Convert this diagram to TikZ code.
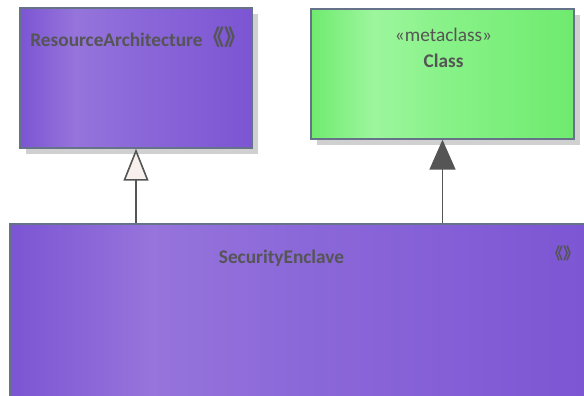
\documentclass[tikz,border=0pt]{standalone}
\usepackage{fontspec}
\setmainfont{Carlito}
\newfontfamily\cjk{Noto Sans CJK SC}
\usetikzlibrary{arrows.meta,shadows}
\definecolor{umlpurple}{HTML}{7C55D3}
\definecolor{umlpurplelt}{HTML}{9674DB}
\definecolor{umlpurplemid}{HTML}{8B68D9}
\definecolor{umlgreen}{HTML}{6FEB6F}
\definecolor{umlgreenlt}{HTML}{9DF69D}
\definecolor{umlgreenmid}{HTML}{88F288}
\definecolor{umlborder}{HTML}{66718A}
\definecolor{umltext}{HTML}{555555}
\definecolor{umlline}{HTML}{555555}
\definecolor{umlshadow}{HTML}{D0D0D0}
\definecolor{hollowfill}{HTML}{F8F0EC}
\pgfdeclarehorizontalshading{purplebar}{100bp}{color(0bp)=(umlpurple); color(25bp)=(umlpurple); color(37bp)=(umlpurplelt); color(50bp)=(umlpurplemid); color(75bp)=(umlpurple); color(100bp)=(umlpurple)}
\pgfdeclarehorizontalshading{greenbar}{100bp}{color(0bp)=(umlgreen); color(25bp)=(umlgreen); color(37bp)=(umlgreenlt); color(50bp)=(umlgreenmid); color(75bp)=(umlgreen); color(100bp)=(umlgreen)}

\begin{document}
\begin{tikzpicture}[x=1pt,y=-1pt,
    classbox/.style={draw=umlborder,line width=1.4pt,inner sep=0pt,
      drop shadow={shadow xshift=6pt,shadow yshift=-6pt,fill=umlshadow,opacity=1}},
    nametext/.style={font=\fontsize{19.3}{22}\selectfont\bfseries,text=umltext,inner sep=0pt,anchor=base},
    stereotext/.style={font=\fontsize{19.3}{22}\selectfont,text=umltext,inner sep=0pt,anchor=base},
    stereoicon/.style={text=umltext,inner sep=0pt}]
  \useasboundingbox (0,0) rectangle (584,396);
  \clip (0,0) rectangle (584,396);

  % boxes
  \node[classbox,shading=purplebar,minimum width=232pt,minimum height=140pt] (ra) at (136,78) {};
  \node[classbox,shading=greenbar,minimum width=263pt,minimum height=130pt] (cls) at (442.5,74) {};
  \node[classbox,shading=purplebar,minimum width=590pt,minimum height=200pt] (se) at (305,324) {};

  % texts
  \node[nametext] (ra-name) at (116.5,47) {ResourceArchitecture};
  \node[stereoicon,font=\cjk\fontsize{22}{22}\selectfont\bfseries] (ra-icon) at (224.5,37) {《》};
  \node[stereotext] (cls-stereo) at (443.5,42) {«metaclass»};
  \node[nametext] (cls-name) at (443.5,67) {Class};
  \node[nametext] (se-name) at (281.5,263) {SecurityEnclave};
  \node[stereoicon,font=\cjk\fontsize{16}{16}\selectfont\bfseries] (se-icon) at (563,253) {《》};

  % generalization and extension
  \draw[draw=umlline,line width=1.6pt,-{Triangle[length=32pt,width=25pt,fill=hollowfill]}] (se.north -| ra.south) -- (ra.south);
  \draw[draw=umlline,line width=1.6pt,-{Triangle[length=30pt,width=26pt,fill=umlline]}] (se.north -| cls.south) -- (cls.south);
\end{tikzpicture}
\end{document}
